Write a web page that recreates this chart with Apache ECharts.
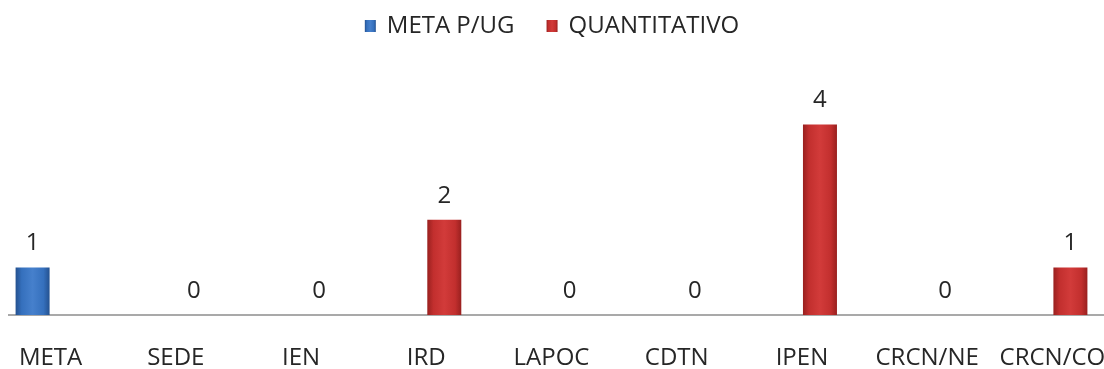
<!DOCTYPE html>
<html>
<head>
<meta charset="utf-8">
<script src="https://cdn.jsdelivr.net/npm/echarts@6/dist/echarts.min.js"></script>
<style>
    html, body { margin: 0; padding: 0; background: #fff; }
    #chart { width: 1104px; height: 369px; }
</style>
</head>
<body>
<div id="chart"></div>
<script>
    // categorias e valores
    var categorias = ['META', 'SEDE', 'IEN', 'IRD', 'LAPOC', 'CDTN', 'IPEN', 'CRCN/NE', 'CRCN/CO'];
    var metaPUG = [1, null, null, null, null, null, null, null, null];
    var quantitativo = [null, 0, 0, 2, 0, 0, 4, 0, 1];
    var yMin = 0;
    var yMax = 5;

    var fonte = '"Open Sans", "Liberation Sans", sans-serif';

    function barra(escuro, medio, claro) {
        return new echarts.graphic.LinearGradient(0, 0, 1, 0, [
            {offset: 0, color: escuro},
            {offset: 0.18, color: medio},
            {offset: 0.5, color: claro},
            {offset: 0.82, color: medio},
            {offset: 1, color: escuro}
        ]);
    }

    var chart = echarts.init(document.getElementById('chart'));
    var option = {
        animation: false,
        legend: {
            top: 9,
            left: 'center',
            itemWidth: 11,
            itemHeight: 12,
            itemGap: 32,
            icon: 'rect',
            textStyle: {
                fontFamily: fonte,
                fontSize: 24,
                color: '#262626',
                padding: [0, 0, 0, 6]
            },
            data: ['META P/UG', 'QUANTITATIVO']
        },
        grid: {
            left: -12,
            right: -11,
            top: 77,
            bottom: 54,
            outerBoundsMode: 'none'
        },
        xAxis: {
            type: 'category',
            data: categorias,
            axisLine: {show: false},
            axisTick: {show: false},
            axisLabel: {
                interval: 0,
                margin: 31,
                fontFamily: fonte,
                fontSize: 24,
                color: '#262626'
            }
        },
        yAxis: {
            type: 'value',
            min: yMin,
            max: yMax,
            show: false,
            splitLine: {show: false}
        },
        series: [
            {
                name: 'META P/UG',
                type: 'bar',
                data: metaPUG,
                barWidth: 34,
                barGap: '6%',
                itemStyle: {
                    color: barra('#24518f', '#3570bd', '#4680cc')
                },
                label: {
                    show: true,
                    position: 'top',
                    distance: 12,
                    fontFamily: fonte,
                    fontSize: 24,
                    color: '#262626'
                }
            },
            {
                name: 'QUANTITATIVO',
                type: 'bar',
                data: quantitativo,
                barWidth: 34,
                itemStyle: {
                    color: barra('#99201f', '#c22f2e', '#d23b3a')
                },
                label: {
                    show: true,
                    position: 'top',
                    distance: 12,
                    fontFamily: fonte,
                    fontSize: 24,
                    color: '#262626'
                }
            }
        ]
    };
    chart.setOption(option);

    // linha do eixo, a partir da borda visivel do grafico
    var y0 = chart.convertToPixel({yAxisIndex: 0}, 0);
    chart.setOption({
        graphic: [{
            type: 'line',
            shape: {x1: 8, y1: y0, x2: 1104, y2: y0},
            style: {stroke: '#8c8c8c', lineWidth: 1.5},
            z: 1
        }]
    });
</script>
</body>
</html>
